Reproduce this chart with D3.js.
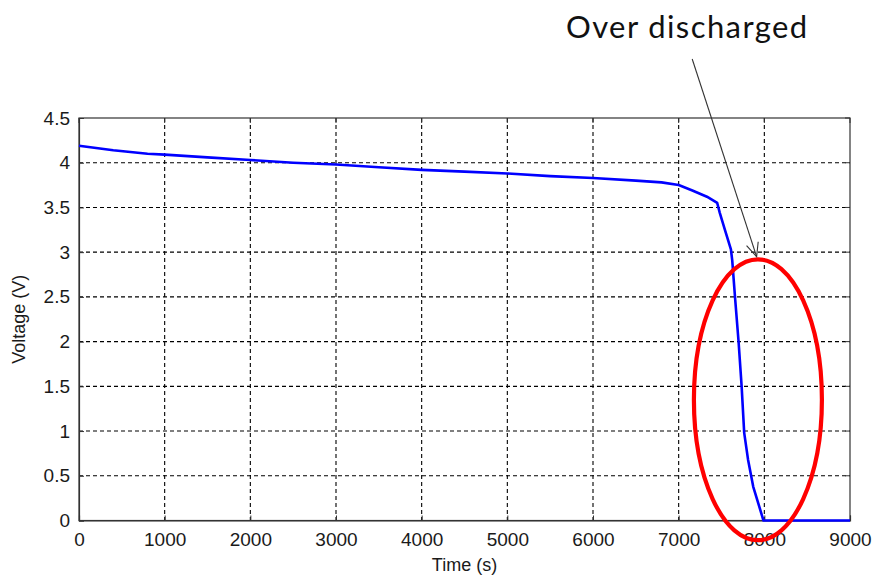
<!DOCTYPE html>
<html>
<head>
<meta charset="utf-8">
<script src="https://cdn.jsdelivr.net/npm/d3@7"></script>
<style>
  html, body { margin: 0; padding: 0; background: #fff; }
  svg { display: block; }
  .tick-label { font-family: "Liberation Sans", Arial, sans-serif; font-size: 19px; fill: #1a1a1a; }
  .axis-title { font-family: "Liberation Sans", Arial, sans-serif; font-size: 18px; fill: #1a1a1a; }
  .note { font-family: Lato, "Open Sans", sans-serif; font-size: 31px; letter-spacing: 1.4px; fill: #111; }
</style>
</head>
<body>
<script>
// Battery discharge: terminal voltage against time
const timeS = [0, 400, 800, 1000, 1500, 2000, 2500, 3000, 3500, 4000, 4500, 5000, 5500, 6000, 6500, 6800, 7000, 7160, 7330, 7450, 7480, 7540, 7610, 7625, 7660, 7700, 7735, 7765, 7810, 7870, 7990, 9000];
const voltage = [4.19, 4.14, 4.10, 4.09, 4.06, 4.03, 4.00, 3.98, 3.95, 3.92, 3.90, 3.88, 3.85, 3.83, 3.80, 3.78, 3.75, 3.69, 3.62, 3.55, 3.44, 3.25, 3.03, 2.91, 2.47, 1.99, 1.50, 0.98, 0.68, 0.38, 0, 0];

const xTicks = [0, 1000, 2000, 3000, 4000, 5000, 6000, 7000, 8000, 9000];
const yTicks = [0, 0.5, 1, 1.5, 2, 2.5, 3, 3.5, 4, 4.5];

// Highlighted region (over-discharge) in data units
const ringCenter = [7925, 1.35];
const ringRadius = [747, 1.57];
const arrowFrom = [7158, 5.16];
const arrowTo = [7910, 2.95];
const noteText = "Over discharged";
const notePos = [5685, 5.40];

const W = 874, H = 576;
const m = { left: 79, top: 118, right: 24, bottom: 55.5 };
const iw = W - m.left - m.right, ih = H - m.top - m.bottom;

const svg = d3.select("body").append("svg").attr("width", W).attr("height", H);
const g = svg.append("g").attr("transform", `translate(${m.left},${m.top})`);

const x = d3.scaleLinear().domain([0, 9000]).range([0, iw]);
const y = d3.scaleLinear().domain([0, 4.5]).range([ih, 0]);

// dashed grid
g.append("g").selectAll("line").data(xTicks.slice(1, -1)).join("line")
  .attr("x1", d => x(d)).attr("x2", d => x(d)).attr("y1", 0).attr("y2", ih)
  .attr("stroke", "#000").attr("stroke-width", 1.1).attr("stroke-dasharray", "4,3");
g.append("g").selectAll("line").data(yTicks.slice(1, -1)).join("line")
  .attr("y1", d => y(d)).attr("y2", d => y(d)).attr("x1", 0).attr("x2", iw)
  .attr("stroke", "#000").attr("stroke-width", 1.1).attr("stroke-dasharray", "4,3");

// axes with inward ticks
const xAxis = d3.axisBottom(x).tickValues(xTicks).tickSize(-5).tickPadding(9).tickFormat(d3.format("d"));
const yAxis = d3.axisLeft(y).tickValues(yTicks).tickSize(-5).tickPadding(9).tickFormat(d => d3.format("")(d));
const gx = g.append("g").attr("transform", `translate(0,${ih})`).call(xAxis);
const gy = g.append("g").call(yAxis);
[gx, gy].forEach(a => {
  a.select(".domain").attr("stroke", "#333").attr("stroke-width", 1.2);
  a.selectAll(".tick line").attr("stroke", "#333");
  a.selectAll(".tick text").attr("class", "tick-label").attr("font-size", null).attr("font-family", null);
});
gx.selectAll(".tick text").attr("dy", "0.85em");
// top and right ticks
g.append("g").selectAll("line").data(xTicks).join("line")
  .attr("x1", d => x(d)).attr("x2", d => x(d)).attr("y1", 0).attr("y2", 5).attr("stroke", "#333");
g.append("g").selectAll("line").data(yTicks).join("line")
  .attr("y1", d => y(d)).attr("y2", d => y(d)).attr("x1", iw).attr("x2", iw - 5).attr("stroke", "#333");
// frame
g.append("rect").attr("width", iw).attr("height", ih).attr("fill", "none").attr("stroke", "#333").attr("stroke-width", 1.2);

// voltage curve
const line = d3.line().x((d, i) => x(timeS[i])).y(d => y(d));
g.append("path").datum(voltage).attr("d", line)
  .attr("fill", "none").attr("stroke", "#0000ff").attr("stroke-width", 2.6).attr("stroke-linejoin", "round");

// axis titles
svg.append("text").attr("class", "axis-title").attr("x", m.left + iw / 2).attr("y", 571)
  .attr("text-anchor", "middle").text("Time (s)");
svg.append("text").attr("class", "axis-title")
  .attr("transform", `translate(25,${m.top + ih / 2}) rotate(-90)`)
  .attr("text-anchor", "middle").text("Voltage (V)");

// annotation: ring, arrow and note
svg.append("ellipse")
  .attr("cx", m.left + x(ringCenter[0])).attr("cy", m.top + y(ringCenter[1]))
  .attr("rx", x(ringRadius[0]) - x(0)).attr("ry", y(0) - y(ringRadius[1]))
  .attr("fill", "none").attr("stroke", "#ff0000").attr("stroke-width", 4.2);

const ax1 = m.left + x(arrowFrom[0]), ay1 = m.top + y(arrowFrom[1]);
const ax2 = m.left + x(arrowTo[0]), ay2 = m.top + y(arrowTo[1]);
svg.append("line").attr("x1", ax1).attr("y1", ay1).attr("x2", ax2).attr("y2", ay2)
  .attr("stroke", "#333").attr("stroke-width", 1.1);
const ang = Math.atan2(ay2 - ay1, ax2 - ax1), hl = 15, spread = 0.42;
svg.append("path")
  .attr("d", `M${ax2 - hl * Math.cos(ang - spread)},${ay2 - hl * Math.sin(ang - spread)} L${ax2},${ay2} L${ax2 - hl * Math.cos(ang + spread)},${ay2 - hl * Math.sin(ang + spread)}`)
  .attr("fill", "none").attr("stroke", "#333").attr("stroke-width", 1.1);

svg.append("text").attr("class", "note")
  .attr("x", m.left + x(notePos[0])).attr("y", m.top + y(notePos[1]))
  .text(noteText);
</script>
</body>
</html>
